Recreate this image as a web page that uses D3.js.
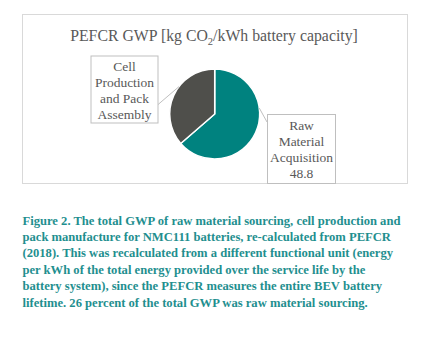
<!DOCTYPE html>
<html>
<head>
<meta charset="utf-8">
<script src="https://cdn.jsdelivr.net/npm/d3@7"></script>
<style>
  body { margin: 0; background: #fff; }
  svg { display: block; }
</style>
</head>
<body>
<div id="chart"></div>
<script>
document.addEventListener("DOMContentLoaded", function () {
    const width = 428;
    const height = 341;

    // data
    const categories = ["Raw Material Acquisition", "Cell Production and Pack Assembly"];
    const values = [48.8, 27.9];
    const labelLines = [["Raw", "Material", "Acquisition", "48.8"], ["Cell", "Production", "and Pack", "Assembly"]];
    const colors = ["#00827f", "#4f4f4b"];
    const captionLines = [
        "Figure 2. The total GWP of raw material sourcing, cell production and",
        "pack manufacture for NMC111 batteries, re-calculated from PEFCR",
        "(2018). This was recalculated from a different functional unit (energy",
        "per kWh of the total energy provided over the service life by the",
        "battery system), since the PEFCR measures the entire BEV battery",
        "lifetime. 26 percent of the total GWP was raw material sourcing."
    ];

    const frame = { x0: 22, y0: 14, x1: 407, y1: 183 };
    const cx = 214.7, cy = 114, r = 45;
    const textColor = "#595959";
    const serif = "'Liberation Serif', 'DejaVu Serif', serif";

    const svg = d3.select("#chart").append("svg")
        .attr("width", width)
        .attr("height", height);

    svg.append("rect").attr("width", width).attr("height", height).attr("fill", "#fff");

    // chart frame
    svg.append("rect")
        .attr("x", frame.x0 + 0.5).attr("y", frame.y0 + 0.5)
        .attr("width", frame.x1 - frame.x0).attr("height", frame.y1 - frame.y0)
        .attr("fill", "none").attr("stroke", "#d9d9d9").attr("stroke-width", 1);

    // title
    const title = svg.append("text")
        .attr("x", 214).attr("y", 41)
        .attr("text-anchor", "middle")
        .attr("font-family", serif).attr("font-size", 15.8)
        .attr("fill", textColor);
    title.append("tspan").text("PEFCR GWP [kg CO");
    title.append("tspan").attr("font-size", 10.5).attr("dy", 3.5).text("2");
    title.append("tspan").attr("dy", -3.5).text("/kWh battery capacity]");

    const pie = d3.pie().sort(null).value(d => d);
    const arcs = pie(values);
    const arc = d3.arc().innerRadius(0).outerRadius(r);

    const g = svg.append("g").attr("transform", `translate(${cx},${cy})`);
    g.selectAll("path")
        .data(arcs)
        .join("path")
        .attr("d", arc)
        .attr("fill", (d, i) => colors[i])
        .attr("stroke", "#fff")
        .attr("stroke-width", 1.5)
        .attr("stroke-linejoin", "round");

    // data label boxes (Excel-style callouts)
    const boxes = [
        { x: 267, y: 114, w: 68, h: 69, anchor: [267, 122], at: 0.36 },
        { x: 90.5, y: 55.5, w: 67, h: 67, anchor: [157.5, 105], at: 0.6 }
    ];

    arcs.forEach((a, i) => {
        const b = boxes[i];
        // leader line from pie edge towards the box
        const ang = a.startAngle + (a.endAngle - a.startAngle) * b.at;
        const p = [cx + r * Math.sin(ang), cy - r * Math.cos(ang)];
        svg.append("line")
            .attr("x1", p[0]).attr("y1", p[1])
            .attr("x2", b.anchor[0]).attr("y2", b.anchor[1])
            .attr("stroke", "#bfbfbf").attr("stroke-width", 1);

        svg.append("rect")
            .attr("x", b.x + 0.5).attr("y", b.y + 0.5)
            .attr("width", b.w).attr("height", b.h)
            .attr("fill", "#fff").attr("stroke", "#bfbfbf").attr("stroke-width", 1);

        const t = svg.append("text")
            .attr("text-anchor", "middle")
            .attr("font-family", serif).attr("font-size", 13.5)
            .attr("fill", textColor);
        labelLines[i].forEach((line, j) => {
            t.append("tspan")
                .attr("x", b.x + b.w / 2 + 0.5)
                .attr("y", b.y + 15.5 + j * 16)
                .text(line);
        });
    });

    // caption
    const cap = svg.append("text")
        .attr("font-family", serif).attr("font-size", 12.6)
        .attr("font-weight", "bold")
        .attr("fill", "#1f8f8f");
    captionLines.forEach((line, j) => {
        cap.append("tspan")
            .attr("x", 22.5)
            .attr("y", 224.5 + j * 16.4)
            .text(line);
    });
});
</script>
</body>
</html>
